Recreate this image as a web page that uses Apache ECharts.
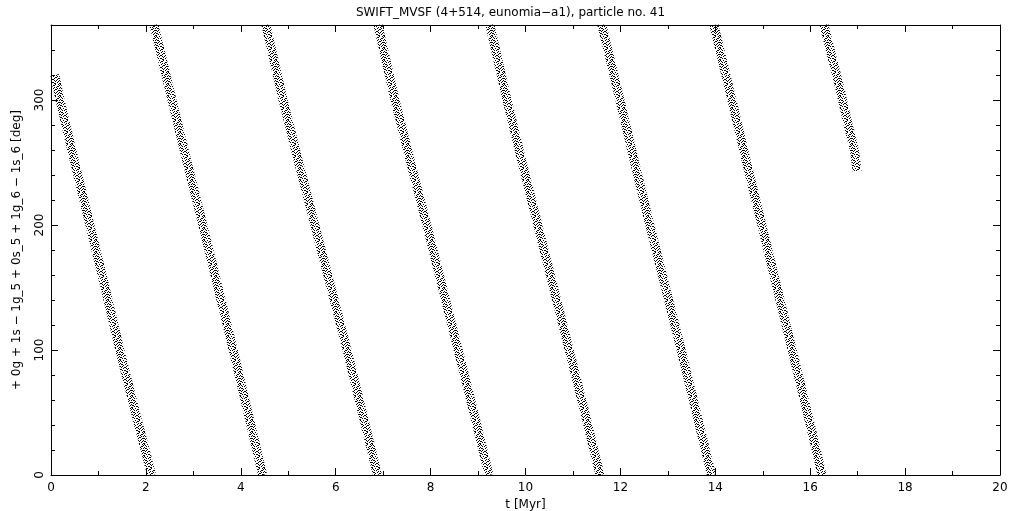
<!DOCTYPE html>
<html>
<head>
<meta charset="utf-8">
<script src="https://cdn.jsdelivr.net/npm/echarts@6/dist/echarts.min.js"></script>
<style>html,body{margin:0;padding:0;background:#fff;}#c{width:1021px;height:511px;}</style>
</head>
<body>
<div id="c"></div>
<script>
// Resonant angle bands: [t (Myr), angle (deg)]
const band1 = [[0.08, 320], [0.19, 300], [0.50, 250], [0.82, 200], [1.14, 150], [1.45, 100], [1.78, 50], [2.12, 0]];
const band2 = [[2.17, 360], [2.55, 300], [2.87, 250], [3.20, 200], [3.52, 150], [3.84, 100], [4.15, 50], [4.46, 0]];
const band3 = [[4.53, 360], [4.89, 300], [5.22, 250], [5.56, 200], [5.90, 150], [6.24, 100], [6.56, 50], [6.88, 0]];
const band4 = [[6.89, 360], [7.25, 300], [7.58, 250], [7.92, 200], [8.25, 150], [8.58, 100], [8.91, 50], [9.23, 0]];
const band5 = [[9.25, 360], [9.61, 300], [9.93, 250], [10.26, 200], [10.59, 150], [10.92, 100], [11.25, 50], [11.57, 0]];
const band6 = [[11.61, 360], [11.99, 300], [12.30, 250], [12.62, 200], [12.95, 150], [13.28, 100], [13.60, 50], [13.92, 0]];
const band7 = [[13.97, 360], [14.35, 300], [14.66, 250], [14.98, 200], [15.30, 150], [15.62, 100], [15.94, 50], [16.25, 0]];
const band8 = [[16.29, 360], [16.62, 310], [16.80, 280], [16.93, 260], [16.99, 243]];
const bands = [band1, band2, band3, band4, band5, band6, band7, band8];

const titleText = 'SWIFT_MVSF (4+514, eunomia\u2212a1), particle no. 41';
const xName = 't [Myr]';
const yName = '+ 0g + 1s \u2212 1g_5 + 0s_5 + 1g_6 \u2212 1s_6 [deg]';
const yLabelValues = [0, 100, 200, 300];

// fixed speckle texture tile used for the dotted bands (style only)
const speckleTile = [
  '100100010010',
  '010001100001',
  '001010000110',
  '100000101000',
  '011001000101',
  '000100011000',
  '101000100011',
  '010011000100',
  '000100101001',
  '110000010010',
  '001011000100',
  '100000110001'
];

const FONT = 'DejaVu Sans';

function makePattern() {
  const n = speckleTile.length;
  const cv = document.createElement('canvas');
  cv.width = speckleTile[0].length; cv.height = n;
  const ctx = cv.getContext('2d');
  ctx.fillStyle = '#000';
  speckleTile.forEach((row, y) => {
    for (let x = 0; x < row.length; x++) if (row[x] === '1') ctx.fillRect(x, y, 1, 1);
  });
  return {image: cv, repeat: 'repeat'};
}
const speckle = makePattern();

const chart = echarts.init(document.getElementById('c'), null, {renderer: 'canvas'});

const lineCol = '#000';
function xAx(pos, labels) {
  return {
    type: 'value', position: pos, min: 0, max: 20, interval: 2,
    axisLine: {show: true, onZero: false, lineStyle: {color: lineCol, width: 1}},
    axisTick: {show: true, inside: true, length: 7, lineStyle: {color: lineCol}},
    minorTick: {show: true, splitNumber: 2, length: 4, lineStyle: {color: lineCol}},
    splitLine: {show: false},
    axisLabel: {show: labels, margin: 7, color: '#000', fontFamily: FONT, fontSize: 12},
    name: labels ? xName : '', nameLocation: 'middle', nameGap: 20,
    nameTextStyle: {color: '#000', fontFamily: FONT, fontSize: 12}
  };
}
function yAx(pos, interval, tickLen, labels, line) {
  return {
    type: 'value', position: pos, min: 0, max: 360, interval: interval,
    axisLine: {show: line, onZero: false, lineStyle: {color: lineCol, width: 1}},
    axisTick: {show: true, inside: true, length: tickLen, lineStyle: {color: lineCol}},
    splitLine: {show: false},
    axisLabel: {show: labels, rotate: 90, margin: 5, color: '#000', fontFamily: FONT, fontSize: 12,
      showMaxLabel: false,
      formatter: v => (yLabelValues.indexOf(v) >= 0 ? String(v) : '')},
    name: labels ? yName : '', nameLocation: 'middle', nameGap: 28, nameRotate: 90,
    nameTextStyle: {color: '#000', fontFamily: FONT, fontSize: 12}
  };
}

const series = bands.map((b, i) => ({
  type: 'line', name: 'band' + (i + 1), xAxisIndex: 0, yAxisIndex: 0,
  data: b, showSymbol: false, symbol: 'none', smooth: false, clip: true,
  lineStyle: {color: speckle, width: 9, cap: 'butt'},
  silent: true, animation: false
}));

chart.setOption({
  animation: false,
  backgroundColor: '#fff',
  title: {text: titleText, left: 'center', top: 2,
    textStyle: {color: '#000', fontFamily: FONT, fontSize: 12, fontWeight: 'normal'}},
  grid: {left: 51, right: 21, top: 25, bottom: 36, containLabel: false, outerBoundsMode: 'none', show: false},
  xAxis: [xAx('bottom', true), xAx('top', false)],
  yAxis: [
    yAx('left', 20, 4, true, true),
    yAx('left', 100, 7, false, false),
    yAx('right', 20, 4, false, true),
    yAx('right', 100, 7, false, false)
  ],
  series: series
});
</script>
</body>
</html>
